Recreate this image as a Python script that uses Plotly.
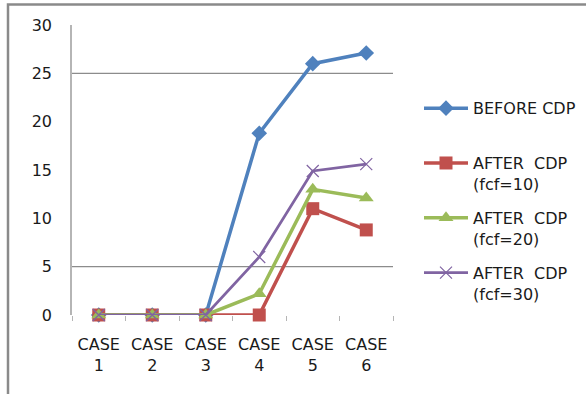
import plotly.graph_objects as go

# Chart data
cases = ["CASE<br>1", "CASE<br>2", "CASE<br>3", "CASE<br>4", "CASE<br>5", "CASE<br>6"]
before_cdp = [0, 0, 0, 18.8, 26.0, 27.1]
after_fcf10 = [0, 0, 0, 0, 11.0, 8.8]
after_fcf20 = [0, 0, 0, 2.2, 13.0, 12.1]
after_fcf30 = [0, 0, 0, 6.0, 14.9, 15.6]

series_names = ["BEFORE CDP", "AFTER  CDP<br>(fcf=10)", "AFTER  CDP<br>(fcf=20)", "AFTER  CDP<br>(fcf=30)"]
y_ticks = [0, 5, 10, 15, 20, 25, 30]

FONT = "DejaVu Sans"
TXT = "#1a1a1a"

styles = [
    dict(color="#4F81BD", width=3.5, symbol="diamond", size=12, lw=0),
    dict(color="#C0504D", width=3.5, symbol="square", size=13, lw=0),
    dict(color="#9BBB59", width=3.5, symbol="triangle-up", size=13, lw=0),
    dict(color="#8064A2", width=2.75, symbol="x-thin", size=12, lw=1.2),
]
series = [before_cdp, after_fcf10, after_fcf20, after_fcf30]
legend_ids = ["legend", "legend2", "legend3", "legend4"]

fig = go.Figure()
for name, vals, st, lg in zip(series_names, series, styles, legend_ids):
    fig.add_trace(go.Scatter(
        x=cases, y=vals, name=name, mode="lines+markers",
        line=dict(color=st["color"], width=st["width"]),
        marker=dict(symbol=st["symbol"], size=st["size"], color=st["color"],
                    line=dict(width=st["lw"], color=st["color"])),
        cliponaxis=False, legend=lg,
    ))

# Plot area in pixels: x 72..393, y 24.5..315.5
PL, PR, PT, PB = 72, 393, 24.5, 315.5
W, H = 586, 394
pw, ph = PR - PL, PB - PT

def px_x(x):
    return (x - PL) / pw

def px_y(y):
    return (PB - y) / ph

legend_common = dict(
    font=dict(family=FONT, size=16, color=TXT),
    bgcolor="rgba(0,0,0,0)", borderwidth=0,
    xanchor="left", yanchor="top", valign="top",
    itemwidth=44, itemclick=False, itemdoubleclick=False,
)
legend_tops = [91, 146, 201, 256]
layout_legends = {}
for lg, top in zip(legend_ids, legend_tops):
    layout_legends[lg] = dict(legend_common, x=px_x(419), y=px_y(top))

# Horizontal reference lines
shapes = []
for yv in (5, 25):
    shapes.append(dict(type="line", xref="paper", yref="y", x0=0, x1=1, y0=yv, y1=yv,
                       line=dict(color="#8c8c8c", width=1.2), layer="below"))
# Outer chart frame
shapes.append(dict(type="rect", xref="paper", yref="paper",
                   x0=px_x(8), x1=px_x(W + 20), y0=px_y(H + 20), y1=px_y(4),
                   line=dict(color="#8a8a8a", width=2.5), fillcolor="rgba(0,0,0,0)"))

fig.update_layout(
    width=W, height=H,
    margin=dict(l=PL, r=W - PR, t=PT, b=H - PB, pad=0, autoexpand=False),
    paper_bgcolor="white", plot_bgcolor="white",
    font=dict(family=FONT, size=16, color=TXT),
    showlegend=True,
    shapes=shapes,
    **layout_legends,
)
fig.update_xaxes(
    type="category", range=[-0.5, 5.5], showgrid=False, zeroline=False,
    showline=False, ticks="outside", tickson="boundaries", ticklen=5,
    tickcolor="#b5b5b5", tickwidth=1.2, ticklabelstandoff=18,
    tickfont=dict(family=FONT, size=16, color=TXT),
)
fig.update_yaxes(
    range=[0, 30], tickvals=y_ticks, showgrid=False, zeroline=False,
    showline=True, linecolor="#b5b5b5", linewidth=1.5, ticks="",
    ticklabelstandoff=15, tickfont=dict(family=FONT, size=16, color=TXT),
)

fig.write_html("out.html")
